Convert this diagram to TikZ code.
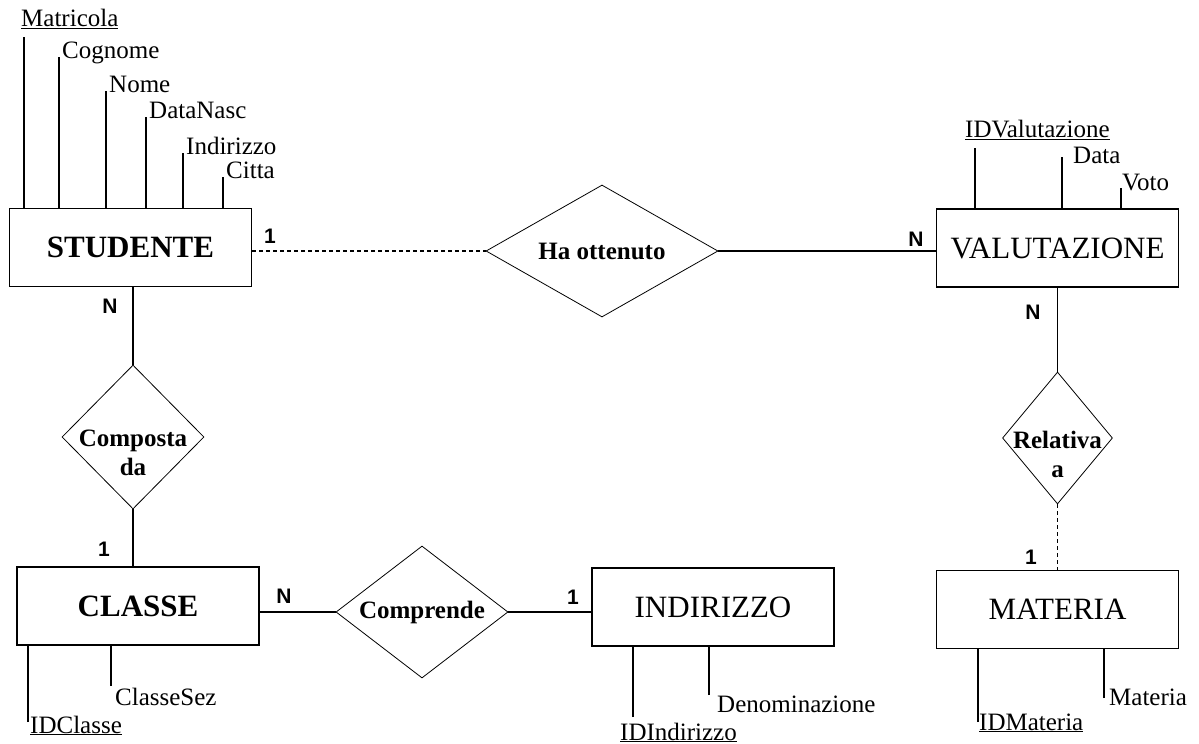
\documentclass[tikz,border=0pt]{standalone}
\usepackage{fontspec}
\setmainfont{Liberation Serif}
\newfontfamily\cardfont{Liberation Sans}
\usetikzlibrary{shapes.geometric}

\begin{document}
\begin{tikzpicture}[x=1pt, y=-1pt,
  entity/.style={draw, line width=1.1pt, minimum width=242pt, minimum height=78pt, inner sep=0pt, font=\fontsize{31}{31}\selectfont},
  relation/.style={draw, diamond, line width=0.8pt, inner sep=0pt},
  reltext/.style={font=\fontsize{25}{29}\selectfont\bfseries, align=center, inner sep=0pt},
  attr/.style={font=\fontsize{25}{25}\selectfont, inner sep=0pt, anchor=base west},
  card/.style={font=\cardfont\bfseries\fontsize{21}{21}\selectfont, inner sep=0pt},
  link/.style={line width=1.1pt},
  weak/.style={line width=1.1pt, dash pattern=on 4pt off 3pt}]
\path[fill=white] (0,0) rectangle (1199,744);

\node[entity] (studente) at (130.5,247.5) {\bfseries STUDENTE};
\node[entity] (valutazione) at (1057.5,248) {VALUTAZIONE};
\node[entity] (classe) at (138,606) {\bfseries CLASSE};
\node[entity] (indirizzo) at (713,607) {INDIRIZZO};
\node[entity] (materia) at (1057.5,609.5) {MATERIA};

\node[relation, minimum width=232pt, minimum height=132pt] (ottenuto) at (602,251) {};
\node[reltext] (tOttenuto) at (ottenuto) {Ha ottenuto};
\node[relation, minimum width=142pt, minimum height=144pt] (composta) at (133,437) {};
\node[reltext, yshift=-16pt] (tComposta) at (composta) {Composta\\da};
\node[relation, minimum width=110pt, minimum height=132pt] (relativa) at (1057.5,438) {};
\node[reltext, yshift=-16pt] (tRelativa) at (relativa) {Relativa\\a};
\node[relation, minimum width=172pt, minimum height=132pt] (comprende) at (422,612) {};
\node[reltext] (tComprende) at (comprende) {Comprende};

\draw[weak] (studente.east |- ottenuto.west) -- (ottenuto.west);
\draw[link] (ottenuto.east) -- (ottenuto.east -| valutazione.west);
\draw[link] (composta.north |- studente.south) -- (composta.north);
\draw[link] (composta.south) -- (composta.south |- classe.north);
\draw[link] (classe.east |- comprende.west) -- (comprende.west);
\draw[link] (comprende.east) -- (comprende.east -| indirizzo.west);
\draw[link] (valutazione.south) -- (relativa.north);
\draw[weak] (relativa.south) -- (materia.north);

\node[card] (cStudOtt) at (270,236) {1};
\node[card] (cValOtt) at (916,239) {N};
\node[card] (cStudComp) at (110,306) {N};
\node[card] (cClasComp) at (104,549) {1};
\node[card] (cClasCompr) at (284,596) {N};
\node[card] (cIndCompr) at (573,597) {1};
\node[card] (cValRel) at (1033,312) {N};
\node[card] (cMatRel) at (1031,557) {1};

\node[attr] (aMatricola) at (21,27) {\underline{Matricola}};
\coordinate (pMatricola) at (24,37);
\draw[link] (pMatricola) -- (pMatricola |- studente.north);
\foreach \name/\x/\y in {Cognome/59/57, Nome/106/91, DataNasc/146/117, Indirizzo/183/153, Citta/223/177}
{
    \coordinate (p\name) at (\x,\y);
    \draw[link] (p\name) -- (p\name |- studente.north);
    \node[attr] (a\name) at ([xshift=3pt, yshift=-1pt]p\name) {\name};
}

\node[attr] (aIDValutazione) at (965,137) {\underline{IDValutazione}};
\coordinate (pIDValutazione) at (975,148);
\draw[link] (pIDValutazione) -- (pIDValutazione |- valutazione.north);
\node[attr] (aData) at (1073,163) {Data};
\coordinate (pData) at (1062,157);
\draw[link] (pData) -- (pData |- valutazione.north);
\node[attr] (aVoto) at (1122,190) {Voto};
\coordinate (pVoto) at (1121,188);
\draw[link] (pVoto) -- (pVoto |- valutazione.north);

\node[attr] (aIDClasse) at (30,733) {\underline{IDClasse}};
\coordinate (pIDClasse) at (28,722);
\draw[link] (pIDClasse) -- (pIDClasse |- classe.south);
\node[attr] (aClasseSez) at (115,705) {ClasseSez};
\coordinate (pClasseSez) at (111,686);
\draw[link] (pClasseSez) -- (pClasseSez |- classe.south);

\node[attr] (aIDIndirizzo) at (620,740) {\underline{IDIndirizzo}};
\coordinate (pIDIndirizzo) at (633,717);
\draw[link] (pIDIndirizzo) -- (pIDIndirizzo |- indirizzo.south);
\node[attr] (aDenominazione) at (717,712) {Denominazione};
\coordinate (pDenominazione) at (709,695);
\draw[link] (pDenominazione) -- (pDenominazione |- indirizzo.south);

\node[attr] (aIDMateria) at (979,730) {\underline{IDMateria}};
\coordinate (pIDMateria) at (978,722);
\draw[link] (pIDMateria) -- (pIDMateria |- materia.south);
\node[attr] (aMateria) at (1109,705) {Materia};
\coordinate (pMateria) at (1104,698);
\draw[link] (pMateria) -- (pMateria |- materia.south);

\end{tikzpicture}
\end{document}
